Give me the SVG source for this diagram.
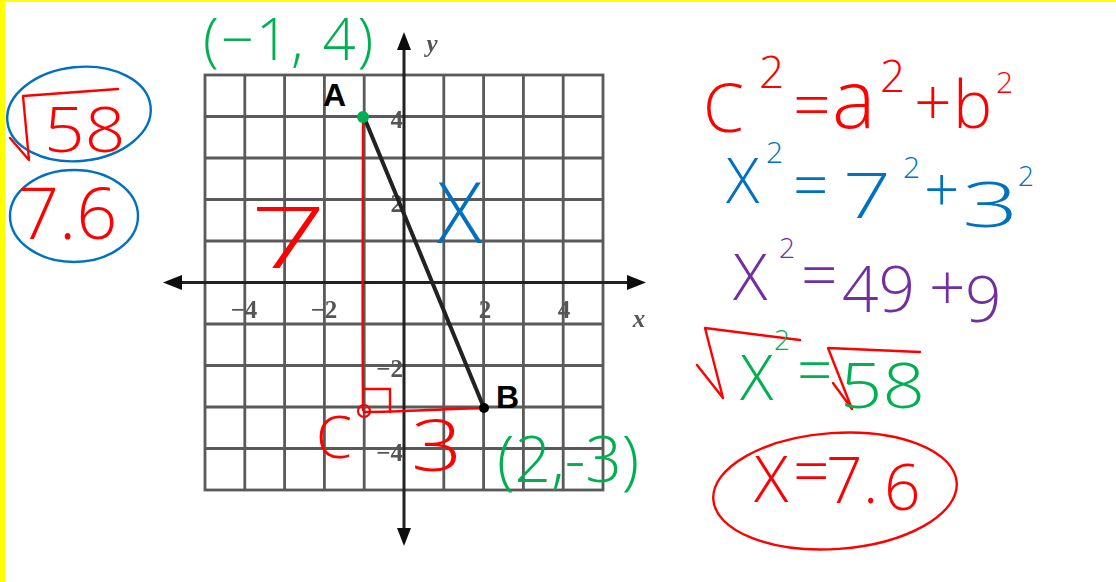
<svg xmlns="http://www.w3.org/2000/svg" width="1116" height="582" viewBox="0 0 1116 582">
<defs>
<style>
.grid{stroke:#5a5a5a;stroke-width:2.8;fill:none}
.tick{font-family:"Liberation Serif",serif;font-size:25px;fill:#555;font-weight:bold}
.hw{font-family:"Open Sans","Liberation Sans",sans-serif;font-weight:300}
.red{fill:#ff0000}.blue{fill:#0070c0}.green{fill:#00b050}.purple{fill:#7030a0}
.rs{stroke:#ff0000;fill:none;stroke-width:2.4;stroke-linecap:round;stroke-linejoin:round}
.bs{stroke:#0070c0;fill:none;stroke-width:2.4}
.lbl{font-family:"Liberation Sans",sans-serif;font-weight:bold;font-size:32px;fill:#000}
</style>
<filter id="soft" x="-5%" y="-5%" width="110%" height="110%"><feGaussianBlur stdDeviation="0.6"/></filter>
</defs>
<rect width="1116" height="582" fill="#fff"/>
<rect x="0" y="0" width="1116" height="2" fill="#ffff00"/>
<rect x="0" y="0" width="5" height="582" fill="#ffff00"/>

<g id="grid" filter="url(#soft)">
<rect x="205" y="75" width="398" height="415" class="grid"/>
<path class="grid" d="M244.8,75V490M284.6,75V490M324.4,75V490M364.2,75V490M443.8,75V490M483.6,75V490M523.4,75V490M563.2,75V490M205,116.5H603M205,158H603M205,199.5H603M205,241H603M205,324H603M205,365.5H603M205,407H603M205,448.5H603"/>
</g>
<g id="axes" filter="url(#soft)">
<line x1="180" y1="282.5" x2="630" y2="282.5" stroke="#222" stroke-width="3"/>
<path d="M163,282.5 L182,275 L182,290 z" fill="#111"/>
<path d="M646,282.5 L627,275 L627,290 z" fill="#111"/>
<line x1="404" y1="48" x2="404" y2="530" stroke="#222" stroke-width="3"/>
<path d="M404,32 L397,50 L411,50 z" fill="#111"/>
<path d="M404,546 L397,528 L411,528 z" fill="#111"/>
<text class="tick" x="244" y="318" text-anchor="middle">−4</text>
<text class="tick" x="324" y="318" text-anchor="middle">−2</text>
<text class="tick" x="485" y="318" text-anchor="middle">2</text>
<text class="tick" x="564" y="318" text-anchor="middle">4</text>
<text class="tick" x="403" y="128" text-anchor="end">4</text>
<text class="tick" x="403" y="212" text-anchor="end">2</text>
<text class="tick" x="403" y="377" text-anchor="end">−2</text>
<text class="tick" x="403" y="461" text-anchor="end">−4</text>
<text class="tick" x="639" y="327" text-anchor="middle" font-style="italic" font-size="30">x</text>
<text class="tick" x="432" y="52" text-anchor="middle" font-style="italic" font-size="30">y</text>
</g>

<g id="connectors">
<line x1="364" y1="117" x2="484" y2="408" stroke="#222" stroke-width="4"/>
<path class="rs" d="M363,118 C363,200 362,300 363,410 M364,412 C400,412 440,409 484,408"/>
<path class="rs" d="M364,389 H390 V412"/>
</g>

<g id="pointA">
<circle cx="363" cy="117" r="6" fill="#00b050"/>
<text class="lbl" x="323" y="106">A</text>
<text class="hw green" font-size="58" letter-spacing="2" x="203" y="60">(−1, 4)</text>
</g>
<g id="pointB">
<circle cx="484" cy="408" r="5" fill="#000"/>
<text class="lbl" x="496" y="408">B</text>
<text class="hw green" font-size="64" x="497" y="482">(2,-3)</text>
</g>
<g id="pointC">
<circle cx="364" cy="411" r="6" fill="none" stroke="#ff0000" stroke-width="2.2"/>
<text class="hw red" font-size="58" x="316" y="458">C</text>
<text class="hw red" font-size="72" transform="translate(411,471) scale(1.25,1)">3</text>
</g>
<g id="labels">
<text class="hw red" font-size="84" transform="translate(250,268) scale(1.6,1)">7</text>
<text class="hw blue" font-size="84" x="437" y="243">X</text>
</g>

<g id="left-answers">
<ellipse cx="79" cy="114" rx="72" ry="47" transform="rotate(-6 79 114)" class="bs"/>
<path class="rs" d="M10,138 L29,160 L23,96 L118,89"/>
<text class="hw red" font-size="62" transform="translate(44,152) scale(1.15,1)">58</text>
<ellipse cx="74" cy="216" rx="64" ry="46" class="bs"/>
<text class="hw red" font-size="72" x="18" y="239">7.6</text>
</g>

<g id="eq1">
<text class="hw red" font-size="66"><tspan x="703" y="132">C</tspan><tspan x="759" y="88" font-size="44">2</tspan><tspan x="793" y="128">=</tspan></text>
<text class="hw red" font-size="82" x="832" y="128">a</text>
<text class="hw red" font-size="44"><tspan x="880" y="92">2</tspan><tspan x="996" y="93" font-size="30">2</tspan></text>
<text class="hw red" font-size="66"><tspan x="914" y="126">+</tspan><tspan x="953" y="128">b</tspan></text>
</g>
<g id="eq2">
<text class="hw blue" font-size="62"><tspan x="726" y="203">X</tspan><tspan x="766" y="163" font-size="30">2</tspan><tspan x="793" y="207">=</tspan><tspan x="903" y="178" font-size="30">2</tspan><tspan x="924" y="212">+</tspan><tspan x="1018" y="186" font-size="28">2</tspan></text>
<text class="hw blue" font-size="62" transform="translate(843,218) scale(1.35,1)">7</text>
<text class="hw blue" font-size="62" transform="translate(962,227) scale(1.6,1)">3</text>
</g>
<g id="eq3">
<text class="hw purple" font-size="64"><tspan x="733" y="300">X</tspan><tspan x="842" y="312">49</tspan><tspan x="929" y="310">+</tspan><tspan x="965" y="322">9</tspan></text>
<text class="hw purple" font-size="28" x="779" y="258">2</text>
<text class="hw purple" font-size="64" x="801" y="298">=</text>
</g>
<g id="eq4">
<path class="rs" d="M697,365 L723,398 L705,328 L800,340"/>
<path class="rs" d="M833,383 L852,409 L828,348 L920,352"/>
<text class="hw green" font-size="62"><tspan x="740" y="400">X</tspan><tspan x="774" y="350" font-size="28">2</tspan><tspan x="797" y="392">=</tspan></text>
<text class="hw green" font-size="62" transform="translate(840,408) scale(1.2,1)">58</text>
</g>
<g id="eq5">
<ellipse cx="835" cy="491" rx="122" ry="58" transform="rotate(-4 835 491)" class="rs"/>
<text class="hw red" font-size="64"><tspan x="754" y="502">X</tspan><tspan x="793" y="494">=</tspan><tspan x="826" y="503">7</tspan><tspan x="863" y="503">.</tspan><tspan x="884" y="510">6</tspan></text>
</g>
</svg>
